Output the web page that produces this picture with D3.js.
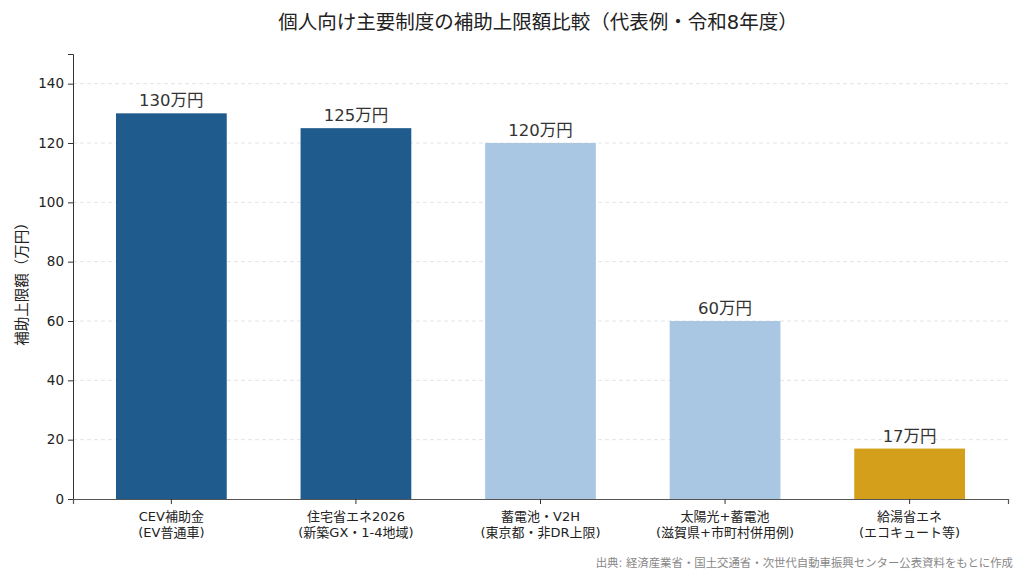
<!DOCTYPE html>
<html>
<head>
<meta charset="utf-8">
<script src="https://cdn.jsdelivr.net/npm/d3@7/dist/d3.min.js"></script>
<style>
  body { margin: 0; background: #fff; }
  svg { display: block; font-family: "DejaVu Sans", "Noto Sans CJK JP", sans-serif; }
</style>
</head>
<body>
<svg id="chart" width="1024" height="573"></svg>
<script>
const categories = [
  ["CEV補助金", "(EV普通車)"],
  ["住宅省エネ2026", "(新築GX・1-4地域)"],
  ["蓄電池・V2H", "(東京都・非DR上限)"],
  ["太陽光+蓄電池", "(滋賀県+市町村併用例)"],
  ["給湯省エネ", "(エコキュート等)"]
];
const values = [130, 125, 120, 60, 17];
const valueLabels = ["130万円", "125万円", "120万円", "60万円", "17万円"];
const barColors = ["#1f5b8c", "#1f5b8c", "#a9c7e2", "#a9c7e2", "#d4a01b"];
const yTicks = [0, 20, 40, 60, 80, 100, 120, 140];

const svg = d3.select("#chart");
const margin = { top: 54, right: 16, bottom: 74, left: 73 };
const width = +svg.attr("width");
const height = +svg.attr("height");
const innerW = width - margin.left - margin.right;
const innerH = height - margin.top - margin.bottom;

const g = svg.append("g").attr("transform", `translate(${margin.left},${margin.top})`);

const x = d3.scaleBand()
  .domain(d3.range(values.length))
  .range([0, innerW])
  .paddingInner(0.4)
  .paddingOuter(0.233);

const y = d3.scaleLinear().domain([0, 150]).range([innerH, 0]);

// grid
g.append("g")
  .selectAll("line")
  .data(yTicks.filter(t => t > 0))
  .join("line")
  .attr("x1", 0).attr("x2", innerW)
  .attr("y1", d => y(d)).attr("y2", d => y(d))
  .attr("stroke", "#dddddd")
  .attr("stroke-width", 0.8)
  .attr("stroke-dasharray", "4,3");

// bars
g.append("g")
  .selectAll("rect")
  .data(values)
  .join("rect")
  .attr("x", (d, i) => x(i))
  .attr("y", d => y(d))
  .attr("width", x.bandwidth())
  .attr("height", d => innerH - y(d))
  .attr("fill", (d, i) => barColors[i]);

// value labels
g.append("g")
  .selectAll("text")
  .data(values)
  .join("text")
  .attr("x", (d, i) => x(i) + x.bandwidth() / 2)
  .attr("y", d => y(d) - 7)
  .attr("text-anchor", "middle")
  .attr("font-size", 16.5)
  .attr("fill", "#333")
  .text((d, i) => valueLabels[i]);

// y axis
const yAxis = g.append("g")
  .call(d3.axisLeft(y).tickValues(yTicks).tickSize(5).tickPadding(4));
yAxis.select(".domain").attr("stroke", "#333");
yAxis.selectAll(".tick line").attr("stroke", "#333");
yAxis.selectAll(".tick text").attr("font-size", 13.5).attr("fill", "#222")
  .style("font-family", "'DejaVu Sans', sans-serif");

// x axis
const xAxis = g.append("g")
  .attr("transform", `translate(0,${innerH})`)
  .call(d3.axisBottom(x).tickSize(5).tickFormat(""));
xAxis.select(".domain").attr("stroke", "#555").attr("stroke-width", 1.2);
xAxis.selectAll(".tick line").attr("stroke", "#333");

g.append("g")
  .selectAll("text")
  .data(categories)
  .join("text")
  .attr("x", (d, i) => x(i) + x.bandwidth() / 2)
  .attr("y", innerH + 22)
  .attr("text-anchor", "middle")
  .attr("font-size", 13)
  .attr("fill", "#222")
  .each(function (d) {
    const t = d3.select(this);
    d.forEach((line, k) => {
      t.append("tspan")
        .attr("x", t.attr("x"))
        .attr("dy", k === 0 ? 0 : 16)
        .text(line);
    });
  });

// y label
svg.append("text")
  .attr("transform", `translate(27,${margin.top + innerH / 2 + 4}) rotate(-90)`)
  .attr("text-anchor", "middle")
  .attr("font-size", 14.5)
  .attr("fill", "#222")
  .text("補助上限額（万円）");

// title
svg.append("text")
  .attr("x", 538)
  .attr("y", 29)
  .attr("text-anchor", "middle")
  .attr("font-size", 19.5)
  .attr("fill", "#222")
  .text("個人向け主要制度の補助上限額比較（代表例・令和8年度）");

// source
svg.append("text")
  .attr("x", 1013)
  .attr("y", 567)
  .attr("text-anchor", "end")
  .attr("font-size", 11.4)
  .attr("fill", "#888")
  .text("出典: 経済産業省・国土交通省・次世代自動車振興センター公表資料をもとに作成");
</script>
</body>
</html>
